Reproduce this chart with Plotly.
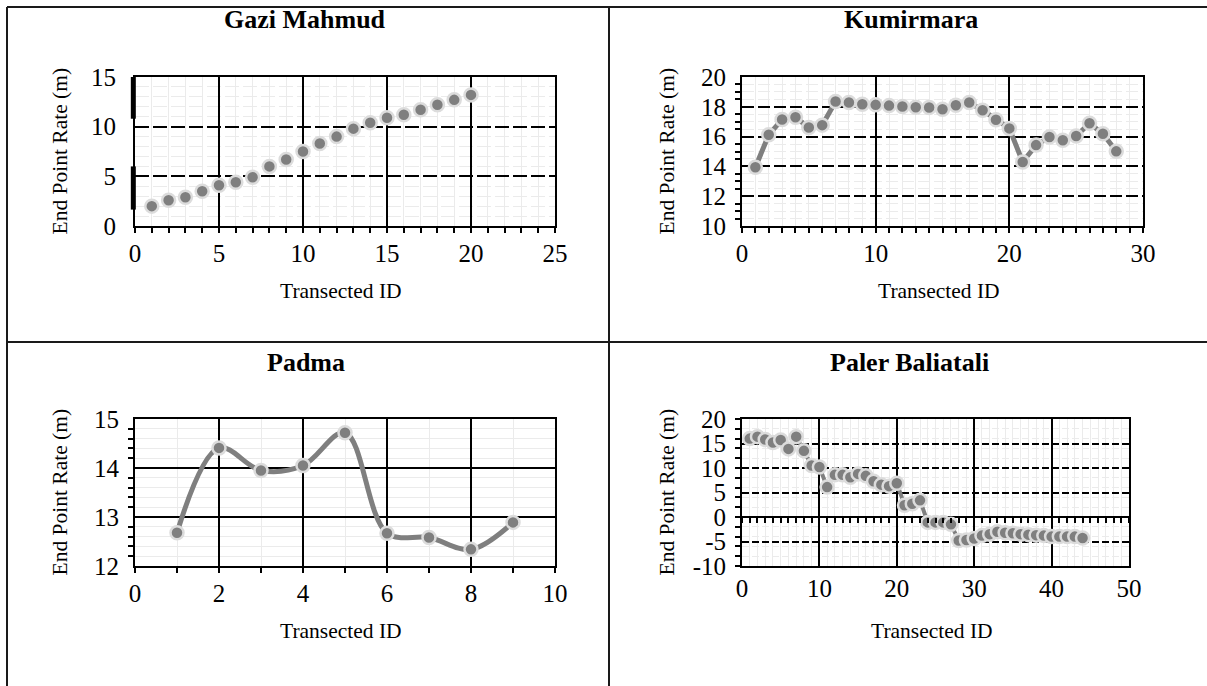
import plotly.graph_objects as go

# ---------------- data ----------------
gazi_id = list(range(1, 21))
gazi_epr = [2.0, 2.6, 2.9, 3.5, 4.1, 4.4, 4.9, 6.0, 6.7, 7.5,
            8.3, 9.0, 9.8, 10.4, 10.9, 11.2, 11.7, 12.2, 12.7, 13.2]

kumir_id = list(range(1, 29))
kumir_epr = [13.94, 16.12, 17.15, 17.3, 16.61, 16.77, 18.35, 18.29, 18.17, 18.13,
             18.08, 18.02, 17.97, 17.95, 17.84, 18.1, 18.29, 17.77, 17.13, 16.55,
             14.3, 15.43, 15.97, 15.75, 16.04, 16.9, 16.19, 15.01]

padma_id = list(range(1, 10))
padma_epr = [12.68, 14.41, 13.95, 14.05, 14.72, 12.67, 12.58, 12.34, 12.89]

paler_id = list(range(1, 45))
paler_epr = [16.0, 16.4, 15.8, 15.2, 15.7, 13.9, 16.4, 13.5, 10.5, 10.2,
             6.1, 8.6, 8.6, 8.1, 8.8, 8.4, 7.3, 6.6, 6.3, 6.9,
             2.4, 2.7, 3.4, -1.1, -1.1, -1.1, -1.5, -4.8, -4.7, -4.4,
             -3.8, -3.5, -3.0, -3.2, -3.3, -3.5, -3.6, -3.7, -3.8, -4.0,
             -4.0, -4.0, -4.0, -4.3]

titles = ["Gazi Mahmud", "Kumirmara", "Padma", "Paler Baliatali"]
x_title = "Transected ID"
y_title = "End Point Rate (m)"
paler_yticks = [-10, -5, 0, 5, 10, 15, 20]
paler_ytext = ["-10", "-5", "0", "5", "10", "15", "20"]

# ---------------- layout helpers ----------------
W, H = 1207, 686
FONT = "Liberation Serif"
GRID_MINOR = "#ebebeb"
MK = "#7f7f7f"
MK_EDGE = "#dcdcdc"


def dx(a, b):
    return [a / W, b / W]


def dy(top, bottom):
    return [1 - bottom / H, 1 - top / H]


# plot rectangles in pixels (left, right, top, bottom)
P = {
    1: (135, 555, 77, 226),
    2: (742, 1143, 77, 226),
    3: (135, 555, 419, 566),
    4: (742, 1129, 419, 566),
}

fig = go.Figure()

marker = dict(size=13, color=MK, line=dict(color=MK_EDGE, width=2.5))

fig.add_trace(go.Scatter(x=gazi_id, y=gazi_epr, mode="markers", marker=marker,
                         xaxis="x", yaxis="y", showlegend=False))
fig.add_trace(go.Scatter(x=kumir_id, y=kumir_epr, mode="lines+markers", marker=marker,
                         line=dict(color=MK, width=5),
                         xaxis="x2", yaxis="y2", showlegend=False))
fig.add_trace(go.Scatter(x=padma_id, y=padma_epr, mode="lines+markers", marker=marker,
                         line=dict(color=MK, width=5, shape="spline", smoothing=1.0),
                         xaxis="x3", yaxis="y3", showlegend=False))
fig.add_trace(go.Scatter(x=paler_id, y=paler_epr, mode="lines+markers", marker=marker,
                         line=dict(color=MK, width=4),
                         xaxis="x4", yaxis="y4", showlegend=False))
# helper trace for the tick axis drawn on the zero line of panel 4
fig.add_trace(go.Scatter(x=[None], y=[None], mode="markers", xaxis="x5", yaxis="y4",
                         showlegend=False, hoverinfo="skip"))

tickfont = dict(family=FONT, size=25, color="black")


def xax(k, rng, dtick, minor_dtick, ticks="outside"):
    l, r, t, b = P[k]
    return dict(domain=dx(l, r), anchor="y" if k == 1 else f"y{k}", range=rng,
                dtick=dtick, tick0=0, showline=True, linecolor="black", linewidth=2,
                mirror=True, showgrid=True, gridcolor="black", gridwidth=2,
                griddash="solid", zeroline=False, ticks=ticks, ticklen=5,
                tickcolor="black", tickwidth=1.5, tickfont=tickfont,
                ticklabelstandoff=-1, automargin=False,
                minor=dict(dtick=minor_dtick, showgrid=True, gridcolor=GRID_MINOR,
                           gridwidth=1, ticks=ticks, ticklen=5, tickcolor="black",
                           tickwidth=1.5),
                fixedrange=True)


def yax(k, rng, dtick, minor_dtick, dash, minor_ticks="outside", standoff=9):
    l, r, t, b = P[k]
    return dict(domain=dy(t, b), anchor="x" if k == 1 else f"x{k}", range=rng,
                dtick=dtick, tick0=rng[0], showline=True, linecolor="black",
                linewidth=2, mirror=True, showgrid=True, gridcolor="black",
                gridwidth=2, griddash=dash, zeroline=False, ticks="",
                tickfont=tickfont, ticklabelstandoff=standoff, automargin=False,
                minor=dict(dtick=minor_dtick, tick0=rng[0], showgrid=True,
                           gridcolor=GRID_MINOR, gridwidth=1, ticks=minor_ticks,
                           ticklen=5, tickcolor="black", tickwidth=1.5),
                fixedrange=True)


x1 = xax(1, [0, 25], 5, 1)
y1 = yax(1, [0, 15], 5, 1, "14px,4px", minor_ticks="", standoff=12)
x2 = xax(2, [0, 30], 10, 1)
y2 = yax(2, [10, 20], 2, 0.5, "12px,4px")
x3 = xax(3, [0, 10], 2, 1)
y3 = yax(3, [12, 15], 1, 0.2, "solid")
x4 = xax(4, [0, 50], 10, 1, ticks="")
y4 = yax(4, [-10, 20], 5, 2, "7px,3px")
y4.update(tickmode="array", tickvals=paler_yticks, ticktext=paler_ytext,
          zeroline=True, zerolinecolor="black", zerolinewidth=2)

l4, r4, t4, b4 = P[4]
zero_pos = (1 - b4 / H) + (0 - (-10)) / 30 * ((b4 - t4) / H)
x5 = dict(overlaying="x4", anchor="free", position=zero_pos, range=[0, 50],
          domain=dx(l4, r4), dtick=1, ticks="outside", ticklen=5, tickcolor="black",
          tickwidth=1.5, showticklabels=False, showgrid=False, showline=False,
          zeroline=False, fixedrange=True, automargin=False)

fig.update_layout(xaxis=x1, yaxis=y1, xaxis2=x2, yaxis2=y2, xaxis3=x3, yaxis3=y3,
                  xaxis4=x4, yaxis4=y4, xaxis5=x5)

# ---------------- texts ----------------
ann = []
title_x = {1: 305, 2: 911, 3: 306, 4: 909}
title_y = {1: 19, 2: 19, 3: 362, 4: 362}
for k in range(1, 5):
    l, r, t, b = P[k]
    ann.append(dict(text=f"<b>{titles[k-1]}</b>", x=title_x[k] / W,
                    y=1 - title_y[k] / H, xref="paper", yref="paper", showarrow=False,
                    xanchor="center", yanchor="middle",
                    font=dict(family=FONT, size=26, color="black")))
    ann.append(dict(text=x_title, x=((l + r) / 2 - 4) / W, y=1 - (b + 65) / H,
                    xref="paper", yref="paper", showarrow=False, xanchor="center",
                    yanchor="middle", font=dict(family=FONT, size=21.5, color="black")))
    ann.append(dict(text=y_title, x=(l - 76) / W, y=1 - (t + b) / 2 / H, xref="paper",
                    yref="paper", showarrow=False, xanchor="center", yanchor="middle",
                    textangle=-90, font=dict(family=FONT, size=21.5, color="black")))

# ---------------- table borders ----------------
shapes = []
line = dict(color="#1a1a1a", width=2)
shapes.append(dict(type="line", xref="paper", yref="paper", x0=7 / W, x1=1, y0=1 - 7 / H,
                   y1=1 - 7 / H, line=line))
shapes.append(dict(type="line", xref="paper", yref="paper", x0=7 / W, x1=7 / W, y0=0,
                   y1=1 - 7 / H, line=line))
shapes.append(dict(type="line", xref="paper", yref="paper", x0=609 / W, x1=609 / W, y0=0,
                   y1=1 - 7 / H, line=line))
shapes.append(dict(type="line", xref="paper", yref="paper", x0=7 / W, x1=1,
                   y0=1 - 342 / H, y1=1 - 342 / H, line=line))
# thick artefact bars on the left axis of the first panel
for a, b in [(0.72, 1.0), (0.11, 0.4)]:
    shapes.append(dict(type="line", xref="x domain", yref="y domain", x0=-0.004,
                       x1=-0.004, y0=a, y1=b, line=dict(color="black", width=5)))

fig.update_layout(annotations=ann, shapes=shapes, width=W, height=H,
                  margin=dict(l=0, r=0, t=0, b=0, pad=0, autoexpand=False),
                  paper_bgcolor="white", plot_bgcolor="white", showlegend=False)

fig.write_html("out.html", config={"displayModeBar": False},
               post_script="document.body.style.margin='0px';"
                           "document.body.style.overflow='hidden';")
